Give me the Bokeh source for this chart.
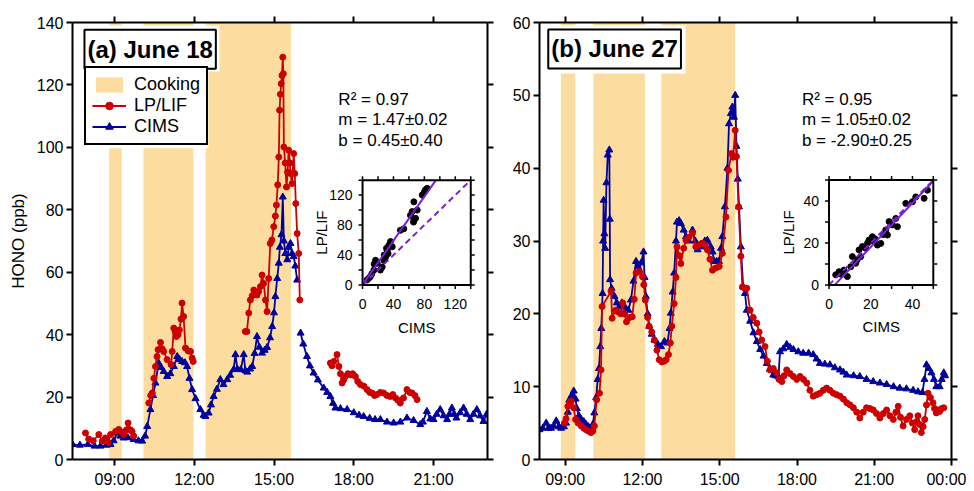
import math
from bokeh.plotting import figure
from bokeh.models import (Range1d, LinearAxis, FixedTicker, Legend, LegendItem,
                          Label, BoxAnnotation)
from bokeh.layouts import row
from bokeh.core.properties import value
from bokeh.embed import file_html
from bokeh.resources import INLINE

NaN = float("nan")
FONT = "Liberation Sans"
RED = "#cc0000"
BLUE = "#00009c"
COOK = "#fcdd9f"
PURPLE = "#7a1fd6"

# ------------------------------------------------------------------ data
# cooking periods (hours of day)
a_cook_start = [8.80, 10.09, 12.43]
a_cook_end = [9.27, 11.97, 15.64]
b_cook_start = [8.83, 10.09, 12.73]
b_cook_end = [9.39, 12.10, 15.60]

# June 18 : CIMS (hour, ppb)
a_cims = [
    (7.42, 4.8), (7.7, 4.6), (8.0, 4.8), (8.25, 4.3), (8.47, 4.3), (8.7, 4.6), (8.85, 4.8),
    (8.97, 6.0), (9.10, 8.5), (9.22, 7.5), (9.35, 6.9), (9.5, 7.0), (9.72, 6.4), (9.9, 6.0),
    (10.04, 5.9), (10.15, 7.5), (10.23, 10.6), (10.35, 16), (10.45, 20.5), (10.54, 24.5),
    (10.66, 30.9), (10.75, 29.5), (10.85, 28.2), (10.98, 26.6), (11.1, 27.5), (11.23, 29.8),
    (11.36, 33), (11.45, 32), (11.54, 31.4), (11.65, 31.0), (11.73, 29.8), (11.82, 26),
    (11.92, 22.4), (12.05, 19.5), (12.23, 16), (12.35, 14.2), (12.42, 13.8), (12.54, 14.9),
    (12.63, 17.5), (12.73, 20.2), (12.85, 22.5), (12.98, 25.6), (13.1, 24.0), (13.24, 25.6),
    (13.35, 27.0), (13.48, 28.8), (13.55, 33.6), (13.62, 29.0), (13.75, 28.8), (13.86, 33.6),
    (13.92, 28.5), (13.99, 28.0), (14.1, 29.0), (14.18, 29.8), (14.27, 34), (14.36, 39.4),
    (14.45, 36), (14.55, 34.1), (14.65, 35.0), (14.74, 35.9), (14.85, 39), (14.93, 42.6),
    (15.0, 47), (15.05, 52.2), (15.12, 58), (15.18, 62.9), (15.22, 68), (15.28, 72),
    (15.33, 84.1), (15.37, 70), (15.43, 66), (15.5, 64), (15.55, 68), (15.62, 69.2),
    (15.68, 66), (15.74, 65), (15.8, 62), (15.87, 57.5), (NaN, NaN),
    (16.0, 40.5), (16.1, 37), (16.24, 33), (16.35, 30), (16.49, 27.7), (16.65, 25.5),
    (16.87, 22.9), (17.0, 21.5), (17.12, 20.2), (17.22, 18), (17.31, 16.5), (17.5, 16.3),
    (17.75, 16), (18.0, 15), (18.2, 14.2), (18.37, 13.8), (18.6, 13.2), (18.8, 12.8),
    (19.0, 12.8), (19.25, 12.0), (19.5, 11.7), (19.75, 12.0), (20.0, 13.3), (20.25, 12.5),
    (20.5, 11.2), (20.6, 12.0), (20.75, 15.4), (20.88, 13.0), (21.0, 12.8), (21.12, 14.5),
    (21.25, 16), (21.38, 14.0), (21.51, 12.8), (21.6, 14.5), (21.69, 16.5), (21.78, 14.5),
    (21.86, 13.3), (22.0, 15.0), (22.13, 16.5), (22.25, 14.5), (22.38, 12.8), (22.5, 14.5),
    (22.63, 16), (22.75, 14.0), (22.88, 12.2), (23.0, 14.5),
]

# June 18 : LP/LIF (hour, ppb)
a_lif = [
    (7.91, 8.5), (8.03, 6.6), (8.2, 6.0), (8.41, 8.0), (8.54, 5.9), (8.66, 6.9), (8.75, 5.5),
    (8.85, 8.0), (9.04, 9.0), (9.16, 9.6), (9.28, 8.8), (9.35, 8.0), (9.45, 9.5), (9.51, 11.7),
    (9.6, 9.5), (9.66, 9.0), (9.72, 7.5), (NaN, NaN),
    (10.29, 18.1), (10.36, 20.5), (10.42, 21.3), (10.48, 26), (10.54, 29.8), (10.6, 33),
    (10.64, 35.2), (10.73, 37.5), (10.79, 35.5), (10.85, 34.6), (10.98, 32), (11.13, 30.4),
    (11.17, 34.6), (11.23, 42.1), (11.28, 41), (11.33, 39.4), (11.39, 40), (11.44, 41.5),
    (11.5, 45), (11.54, 50.1), (11.6, 45.8), (11.67, 35.7), (11.77, 34.8), (11.86, 34.6),
    (11.92, 32.5), (11.96, 31.4), (NaN, NaN),
    (13.92, 41), (13.98, 41), (14.05, 46.9), (14.11, 51.1), (14.18, 52.5), (14.24, 54.3),
    (14.3, 53.5), (14.36, 52.7), (14.42, 53.8), (14.49, 55.4), (14.55, 59.1), (14.61, 56.4),
    (14.68, 51.1), (14.74, 47.4), (14.8, 58), (14.86, 69.2), (14.92, 70.3), (14.99, 74.6),
    (15.05, 78), (15.09, 81.5), (15.14, 88), (15.18, 96.9), (15.21, 111.9), (15.24, 117),
    (15.27, 120.4), (15.3, 123), (15.33, 128.9), (15.35, 123.6), (15.37, 100.1), (15.42, 95),
    (15.47, 87.3), (15.51, 92), (15.55, 99.1), (15.6, 95), (15.62, 91.6), (15.68, 88.4),
    (15.74, 98), (15.78, 91.6), (15.82, 82), (15.87, 72.4), (15.93, 66), (15.97, 51.1),
    (NaN, NaN),
    (17.12, 30.9), (17.18, 30.0), (17.25, 31.4), (17.37, 33.6), (17.44, 29.8), (17.5, 27.5),
    (17.56, 24.5), (17.62, 25.5), (17.68, 26.6), (17.78, 27.5), (17.87, 27.1), (17.96, 27.5),
    (18.06, 26.6), (18.15, 25.0), (18.25, 24.0), (18.38, 23.5), (18.50, 22.4), (18.6, 21.5),
    (18.69, 21.3), (18.78, 20.5), (18.87, 20.8), (19.0, 21.5), (19.12, 21.3), (19.25, 20.5),
    (19.37, 20.2), (19.47, 20.8), (19.57, 19.7), (19.66, 19.0), (19.75, 18.1), (19.87, 19.7),
    (20.0, 22.4), (20.1, 21.5), (20.19, 21.3), (20.3, 20.5), (20.38, 19.2),
]

# June 27 : CIMS (hour, ppb)
b_cims = [
    (8.0, 4.1), (8.13, 4.3), (8.26, 5.0), (8.35, 4.3), (8.45, 4.3), (8.55, 4.6), (8.65, 5.3),
    (8.75, 4.5), (8.84, 4.3), (8.95, 4.5), (9.03, 5.0), (9.1, 6.5), (9.16, 8.2), (9.25, 8.8),
    (9.33, 9.4), (9.4, 8.3), (9.45, 7.0), (9.53, 6.0), (9.62, 5.5), (9.72, 5.2), (9.81, 4.8),
    (9.9, 4.5), (10.0, 4.1), (10.07, 4.8), (10.13, 6.4), (10.2, 8.5), (10.26, 11.0),
    (10.31, 12.5), (10.36, 15.5), (10.4, 18), (10.45, 22.8), (10.47, 30), (10.49, 35.6),
    (10.52, 31), (10.55, 29), (10.6, 38), (10.65, 41.8), (10.71, 42.5), (10.73, 33),
    (10.74, 24.7), (10.8, 23.5), (10.91, 22.4), (11.0, 21.5), (11.1, 21.0), (11.2, 21.5),
    (11.36, 20.7), (11.45, 20.5), (11.55, 21.9), (11.65, 24.5), (11.75, 27.2), (11.82, 26.5),
    (11.88, 26.0), (11.95, 27), (12.04, 28.5), (12.08, 25), (12.13, 22.4), (12.2, 20),
    (12.26, 18.3), (12.36, 17.2), (12.46, 16.4), (12.6, 15.8), (12.72, 15.5), (12.85, 16.2),
    (12.97, 16.0), (13.05, 18), (13.1, 20.1), (13.17, 23), (13.23, 25.6), (13.3, 30),
    (13.34, 32.6), (13.42, 32.8), (13.49, 32.4), (13.6, 31.5), (13.69, 30.6), (13.8, 30.0),
    (13.94, 31.5), (14.05, 30.0), (14.14, 28.8), (14.25, 29.5), (14.33, 29.2), (14.42, 30.0),
    (14.52, 30.1), (14.65, 29.2), (14.72, 28.5), (14.78, 27.2), (14.88, 27.2), (14.97, 27.2),
    (15.05, 29), (15.1, 30.6), (15.2, 34.7), (15.3, 40), (15.36, 46.1), (15.43, 47.5),
    (15.49, 48.4), (15.55, 47), (15.6, 50), (15.65, 43), (15.7, 38.5), (15.75, 34.7),
    (15.82, 29.2), (15.91, 23.7), (15.98, 22.8), (16.05, 20.5), (16.18, 19.0), (16.31, 17.4),
    (16.44, 16.2), (16.57, 15.1), (16.7, 14.2), (16.83, 13.2), (16.95, 12.4), (17.08, 11.6),
    (17.18, 11.5), (17.28, 11.4), (17.34, 14.8), (17.47, 15.2), (17.6, 15.8), (17.73, 15.4),
    (17.86, 15.1), (18.05, 14.8), (18.24, 14.6), (18.45, 14.6), (18.63, 14.4), (18.76, 13.8),
    (18.89, 13.2), (19.08, 13.1), (19.28, 13.0), (19.47, 12.6), (19.67, 12.3), (19.8, 12.0),
    (19.93, 11.6), (20.2, 11.5), (20.44, 11.4), (20.7, 11.0), (20.96, 10.7), (21.22, 10.5),
    (21.48, 10.3), (21.75, 10.0), (21.99, 9.8), (22.25, 9.7), (22.51, 9.5), (22.7, 9.3),
    (22.87, 9.2), (22.95, 11), (23.03, 13.0), (23.12, 12.5), (23.22, 11.9), (23.32, 11.0),
    (23.41, 10.0), (23.54, 10.0), (23.62, 11.0), (23.7, 11.9), (23.75, 11.5),
]

# June 27 : LP/LIF (hour, ppb)
b_lif = [
    (8.97, 5.0), (9.03, 5.6), (9.1, 7.3), (9.16, 7.8), (9.23, 8.0), (9.33, 7.1), (9.4, 5.5),
    (9.5, 5.0), (9.62, 4.6), (9.72, 4.3), (9.81, 4.1), (9.9, 3.9), (10.0, 3.7), (10.07, 3.9),
    (10.13, 4.6), (10.22, 8.2), (10.33, 9.1), (10.39, 12.3), (10.43, 21), (10.78, 23.1),
    (10.82, 19.4), (10.95, 20.5), (11.04, 20.3), (11.15, 20.0), (11.23, 21.5), (11.3, 20),
    (11.38, 18.9), (11.5, 19.5), (11.6, 19.6), (11.68, 22), (11.75, 25.6), (11.88, 25.8),
    (12.0, 25.1), (12.05, 24), (12.11, 21.9), (12.2, 19.5), (12.26, 18.3), (12.36, 17.5),
    (12.46, 16.4), (12.56, 15), (12.65, 13.7), (12.75, 13.4), (12.84, 13.5), (12.92, 13.7),
    (13.01, 14.4), (13.08, 16), (13.14, 18.3), (13.23, 21.4), (13.3, 25), (13.34, 29.2),
    (13.42, 28), (13.49, 26.9), (13.6, 29), (13.69, 30.1), (13.8, 30.5), (13.94, 31.1),
    (14.07, 29.2), (14.2, 29.5), (14.33, 29.7), (14.42, 29.5), (14.52, 28.8), (14.62, 27.5),
    (14.72, 26.0), (14.85, 26.3), (14.98, 26.5), (15.1, 28.3), (15.24, 33.3), (15.34, 39.7),
    (15.45, 42), (15.52, 41.5), (15.6, 45.2), (15.65, 41.6), (15.73, 34.7), (15.82, 27.9),
    (15.88, 23.7), (15.98, 23.5), (16.05, 23.5), (16.18, 20.5), (16.3, 19.5), (16.44, 18.7),
    (16.53, 17.5), (16.63, 16.4), (16.76, 15.5), (16.85, 13.5), (16.95, 12.3), (17.08, 12.5),
    (17.21, 11.9), (17.3, 11.0), (17.41, 10.7), (17.5, 11.5), (17.6, 12.3), (17.73, 11.8),
    (17.86, 11.4), (17.99, 11.0), (18.12, 11.4), (18.25, 11.0), (18.38, 10.5), (18.5, 9.5),
    (18.63, 8.7), (18.76, 8.9), (18.89, 9.1), (19.02, 9.5), (19.15, 9.8), (19.28, 9.5),
    (19.41, 9.1), (19.54, 8.9), (19.67, 8.7), (19.8, 8.3), (19.93, 7.8), (20.06, 7.5),
    (20.19, 7.1), (20.32, 6.5), (20.44, 5.7), (20.57, 6.5), (20.70, 7.1), (20.83, 7.0),
    (20.96, 6.8), (21.09, 6.3), (21.22, 5.7), (21.35, 6.3), (21.48, 6.8), (21.61, 6.0),
    (21.74, 5.5), (21.84, 6.5), (21.93, 7.3), (22.02, 5.8), (22.12, 4.6), (22.25, 5.5),
    (22.38, 6.0), (22.48, 5.0), (22.57, 4.1), (22.64, 5.2), (22.7, 6.0), (22.77, 4.8),
    (22.83, 3.7), (22.9, 4.5), (22.96, 5.5), (23.03, 7.5), (23.09, 9.1), (23.18, 8.5),
    (23.28, 7.8), (23.34, 7.0), (23.41, 6.4), (23.48, 6.8), (23.54, 6.6), (23.62, 7.0),
    (23.70, 7.1),
]

# correlation insets: (CIMS, LP/LIF)
a_scatter = [
    (5.7, 6.7), (8, 9), (10, 11), (12, 15), (14.7, 20), (16.8, 33), (15, 28), (19, 29),
    (23, 20), (25.4, 24), (27.5, 33), (29.7, 37), (31, 49), (31.9, 46), (34, 53), (36.2, 58),
    (38.4, 51), (33, 42), (28, 40), (49, 73), (53.4, 75), (62, 93), (64.2, 98), (66.4, 87),
    (68.6, 89), (66, 84), (70.7, 100), (66.4, 111), (77.2, 120), (81.5, 127), (83.6, 129),
    (80, 124),
]
b_scatter = [
    (3.2, 4.8), (4.8, 6.3), (6, 5), (7.2, 7.1), (8.8, 4.0), (10.4, 8.7), (11.2, 13.5),
    (12.8, 10.3), (13.5, 12), (14.4, 16.7), (15.2, 13.5), (16, 18.3), (17.6, 17.5),
    (18.5, 20), (19.2, 21.4), (20.8, 23), (21.6, 20.6), (22, 22), (23.2, 19), (24.8, 19.8),
    (26, 24), (27.2, 26.2), (28, 23.8), (28.8, 30.2), (30.4, 28.6), (32, 31.7), (32.8, 27.8),
    (36.8, 38.9), (40, 39.7), (41.6, 42), (45.6, 41.3), (47.2, 45.2),
]
a_slope, a_icpt = 1.47, 0.45
b_slope, b_icpt = 1.05, -2.90

a_stats = ["R\u00b2 = 0.97", "m = 1.47\u00b10.02", "b = 0.45\u00b10.40"]
b_stats = ["R\u00b2 = 0.95", "m =  1.05\u00b10.02", "b  = -2.90\u00b10.25"]
a_title = "(a) June 18"
b_title = "(b) June 27"

time_labels = {9: "09:00", 12: "12:00", 15: "15:00", 18: "18:00", 21: "21:00", 24: "00:00"}
a_xticks = [9, 12, 15, 18, 21]
b_xticks = [9, 12, 15, 18, 21, 24]
a_yticks = [0, 20, 40, 60, 80, 100, 120, 140]
b_yticks = [0, 10, 20, 30, 40, 50, 60]
a_in_ticks = [0, 20, 40, 60, 80, 100, 120, 140]
a_in_labels = [0, 40, 80, 120]
b_in_ticks = [0, 10, 20, 30, 40, 50]
b_in_labels = [0, 20, 40]


# ------------------------------------------------------------------ helpers
def style_axis(ax, ticks, show_labels=True):
    ax.ticker = FixedTicker(ticks=ticks)
    ax.axis_line_width = 2
    ax.axis_line_color = "black"
    ax.major_tick_line_width = 2
    ax.major_tick_line_color = "black"
    ax.major_tick_in = 0
    ax.major_tick_out = 6
    ax.minor_tick_line_color = None
    ax.major_label_text_font = FONT
    ax.major_label_text_font_size = "16px"
    ax.major_label_text_color = "black"
    ax.major_label_standoff = 3
    if not show_labels:
        ax.major_label_text_color = None
        ax.major_label_text_font_size = "1px"
        ax.major_label_standoff = 0


def make_panel(width, b_left, b_right, xr, yr, xticks, yticks, cs, ce, cims, lif):
    p = figure(width=width, height=490, x_range=Range1d(*xr), y_range=Range1d(*yr),
               output_backend="svg", toolbar_location=None,
               min_border_left=b_left, min_border_right=b_right,
               min_border_top=22, min_border_bottom=30)
    p.outline_line_color = None
    p.grid.visible = False
    style_axis(p.xaxis[0], xticks)
    p.xaxis[0].major_label_overrides = {t: time_labels[t] for t in xticks}
    p.xaxis[0].major_label_standoff = 5
    style_axis(p.yaxis[0], yticks)
    top = LinearAxis()
    style_axis(top, xticks, False)
    right = LinearAxis()
    style_axis(right, yticks, False)
    p.add_layout(top, "above")
    p.add_layout(right, "right")

    band = p.quad(left=cs, right=ce, bottom=0, top=yr[1], fill_color=COOK, line_color=None)
    ct, cv = zip(*cims)
    lt, lv = zip(*lif)
    bl = p.line(list(ct), list(cv), line_color=BLUE, line_width=1.8)
    bs = p.scatter(list(ct), list(cv), marker="triangle", size=7, color=BLUE)
    rl = p.line(list(lt), list(lv), line_color=RED, line_width=1.8)
    rs = p.scatter(list(lt), list(lv), marker="circle", size=6, color=RED)
    return p, band, (rl, rs), (bl, bs)


def add_inset(p, xt, yt, lim, ticks, labels, pts, slope, icpt):
    sub = p.subplot(x_source=Range1d(0, lim), y_source=Range1d(0, lim),
                    x_target=Range1d(*xt), y_target=Range1d(*yt))
    sub.quad(left=[0], right=[lim], bottom=[0], top=[lim], fill_color="white", line_color=None)
    sx, sy = zip(*pts)
    sub.scatter(list(sx), list(sy), marker="circle", size=6, color="black")
    sub.line([0, lim], [0, lim], line_color=PURPLE, line_width=2, line_dash="6 4")
    x0 = max(0.0, -icpt / slope)
    x1 = min(lim, (lim - icpt) / slope)
    sub.line([x0, x1], [slope * x0 + icpt, slope * x1 + icpt], line_color=PURPLE, line_width=2)
    sub.quad(left=[0], right=[lim], bottom=[0], top=[lim], fill_color=None,
             line_color="black", line_width=2)
    n = len(ticks)
    tk = dict(length=4, length_units="screen", line_color="black", line_width=1.5)
    sub.ray(x=ticks, y=[0] * n, angle=-math.pi / 2, **tk)
    sub.ray(x=ticks, y=[lim] * n, angle=math.pi / 2, **tk)
    sub.ray(x=[0] * n, y=ticks, angle=math.pi, **tk)
    sub.ray(x=[lim] * n, y=ticks, angle=0, **tk)
    k = len(labels)
    txt = dict(text_font=value(FONT), text_font_size=value("14px"), text_color="black")
    sub.text(x=labels, y=[0] * k, text=[str(v) for v in labels], text_align="center",
             text_baseline="middle", y_offset=19, **txt)
    sub.text(x=[0] * k, y=labels, text=[str(v) for v in labels], text_align="right",
             text_baseline="middle", x_offset=-10, **txt)
    lab = dict(text_font=value(FONT), text_font_size=value("15px"), text_color="black",
               text_align="center", text_baseline="middle")
    sub.text(x=[lim / 2], y=[0], text=["CIMS"], y_offset=42, **lab)
    sub.text(x=[0], y=[lim / 2], text=["LP/LIF"], angle=math.pi / 2, x_offset=-41, **lab)


def add_stats(p, x, ys, lines):
    for y, t in zip(ys, lines):
        p.add_layout(Label(x=x, y=y, text=t, text_font=FONT, text_font_size="17px",
                           text_color="black", text_baseline="alphabetic", text_align="left"))


def add_title(p, x, y, text, margin_box):
    l, r, b, t = margin_box
    p.add_layout(BoxAnnotation(left=l, right=r, bottom=b, top=t, fill_color="white",
                               fill_alpha=1, line_color=None))
    p.add_layout(Label(x=x, y=y, text=text, text_font=FONT, text_font_size="24px",
                       text_font_style="bold", text_color="black", anchor="top_left",
                       background_fill_color="white", border_line_color="black",
                       border_line_width=2,
                       padding=dict(left=3, right=3, top=6, bottom=6)))


# ------------------------------------------------------------------ panel (a)
pa, band_a, lif_a, cims_a = make_panel(500, 72, 13, (7.42, 23.03), (0, 140),
                                       a_xticks, a_yticks, a_cook_start, a_cook_end,
                                       a_cims, a_lif)
ya = pa.yaxis[0]
ya.axis_label = "HONO (ppb)"
ya.axis_label_text_font = FONT
ya.axis_label_text_font_size = "17px"
ya.axis_label_text_font_style = "normal"
ya.axis_label_text_color = "black"
ya.axis_label_standoff = 6

add_inset(pa, (18.33, 22.40), (55.9, 89.5), 140, a_in_ticks, a_in_labels,
          a_scatter, a_slope, a_icpt)
add_stats(pa, 17.42, [115.3, 108.9, 102.3], a_stats)
add_title(pa, 7.87, 137.7, a_title, (7.72, 12.95, 124.3, 139.0))
pa.add_layout(BoxAnnotation(left=7.76, right=12.53, bottom=99.7, top=124.5,
                            fill_color="white", fill_alpha=1, line_color=None))
legend = Legend(items=[LegendItem(label=value("Cooking"), renderers=[band_a]),
                       LegendItem(label=value("LP/LIF"), renderers=list(lif_a)),
                       LegendItem(label=value("CIMS"), renderers=list(cims_a))],
                location=(12, 314), border_line_color="black", border_line_width=2,
                border_line_alpha=1,
                background_fill_color="white", background_fill_alpha=1,
                label_text_font=FONT, label_text_font_size="18px", label_text_color="black",
                glyph_width=34, glyph_height=19, label_height=19, spacing=0,
                padding=6, margin=0, label_standoff=8)
pa.add_layout(legend, "center")

# ------------------------------------------------------------------ panel (b)
pb, band_b, lif_b, cims_b = make_panel(466, 39, 15, (8.0, 24.0), (0, 60),
                                       b_xticks, b_yticks, b_cook_start, b_cook_end,
                                       b_cims, b_lif)
add_inset(pb, (19.244, 23.293), (23.97, 38.36), 50, b_in_ticks, b_in_labels,
          b_scatter, b_slope, b_icpt)
add_stats(pb, 18.19, [49.45, 46.7, 43.8], b_stats)
add_title(pb, 8.34, 59.04, b_title, (8.18, 13.67, 53.0, 59.6))

layout = row(pa, pb)
open("out.html", "w").write(file_html(layout, INLINE))
